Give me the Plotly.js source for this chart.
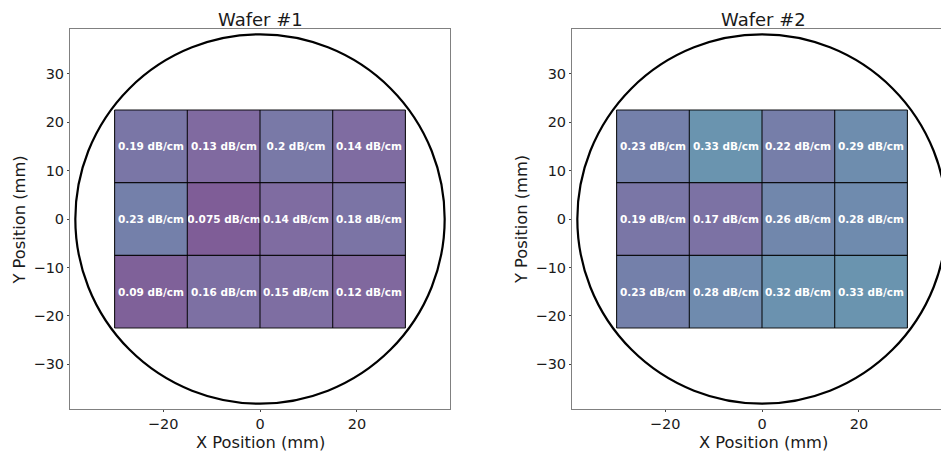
<!DOCTYPE html>
<html>
<head>
<meta charset="utf-8">
<script src="https://cdn.plot.ly/plotly-3.0.1.min.js"></script>
<style>
html,body{margin:0;padding:0;overflow:hidden;background:#fff;width:941px;height:452px;}
#chart{width:960px;height:452px;}
</style>
</head>
<body>
<div id="chart"></div>
<script>
// ---- data ----
const xCenters = [-22.5, -7.5, 7.5, 22.5];     // mm, column centres
const yCenters = [15, 0, -15];                 // mm, row centres
const wafer1 = [
  [0.19, 0.13, 0.2, 0.14],
  [0.23, 0.075, 0.14, 0.18],
  [0.09, 0.16, 0.15, 0.12]
];
const wafer2 = [
  [0.23, 0.33, 0.22, 0.29],
  [0.19, 0.17, 0.26, 0.28],
  [0.23, 0.28, 0.32, 0.33]
];
const waferTitles = ['Wafer #1', 'Wafer #2'];
const xLabel = 'X Position (mm)';
const yLabel = 'Y Position (mm)';
const unit = 'dB/cm';
const waferRadius = 38.1;   // mm (3-inch wafer)
const cellSize = 15;        // mm
const axisRange = [-39.2, 39.2];
const xTickVals = [-20, 0, 20];
const yTickVals = [-30, -20, -10, 0, 10, 20, 30];

// ---- styling ----
const zmin = 0.075, zmax = 0.33;
function stop(v){ return (v - zmin) / (zmax - zmin); }
const colorscale = [
  [stop(0.075), 'rgb(127,93,151)'],
  [stop(0.13),  'rgb(128,106,160)'],
  [stop(0.19),  'rgb(122,118,166)'],
  [stop(0.23),  'rgb(116,128,170)'],
  [stop(0.28),  'rgb(111,139,174)'],
  [stop(0.33),  'rgb(106,148,175)']
];
const FONT = 'DejaVu Sans, sans-serif';
const TXT = '#1a1a1a';

function heat(z, xa, ya){
  return {
    type: 'heatmap', x: xCenters, y: yCenters, z: z,
    xaxis: xa, yaxis: ya,
    zmin: zmin, zmax: zmax, colorscale: colorscale, showscale: false,
    text: z.map(r => r.map(v => v + ' ' + unit)),
    texttemplate: '%{text}',
    textfont: {family: FONT, size: 10.5, color: 'white', weight: 'bold'},
    hoverinfo: 'skip'
  };
}
function gridLines(xa, ya){
  const h = cellSize / 2;
  const xe = [xCenters[0] - h].concat(xCenters.map(c => c + h));
  const ye = [yCenters[0] + h].concat(yCenters.map(c => c - h));
  const xs = [], ys = [];
  xe.forEach(x => { xs.push(x, x, null); ys.push(ye[0], ye[ye.length-1], null); });
  ye.forEach(y => { xs.push(xe[0], xe[xe.length-1], null); ys.push(y, y, null); });
  return {type:'scatter', mode:'lines', x: xs, y: ys, xaxis: xa, yaxis: ya,
          line:{color:'rgba(0,0,0,0.9)', width:1.1}, hoverinfo:'skip', showlegend:false};
}

const data = [
  heat(wafer1, 'x', 'y'), gridLines('x', 'y'),
  heat(wafer2, 'x2', 'y2'), gridLines('x2', 'y2')
];

function axisCommon(){
  return {
    range: axisRange, showgrid: false, zeroline: false,
    showline: true, mirror: true, linecolor: '#808080', linewidth: 1,
    ticks: 'outside', ticklen: 2, tickcolor: '#444', tickwidth: 1,
    tickfont: {family: FONT, size: 14.5, color: TXT},
    fixedrange: true
  };
}
const W = 960, H = 452;
const P1 = [70, 450], P2 = [572, 952];
const yDom = [(H - 409) / H, (H - 29) / H];
const xa1 = Object.assign(axisCommon(), {domain:[P1[0]/W, P1[1]/W], anchor:'y', tickvals:xTickVals});
const ya1 = Object.assign(axisCommon(), {domain:yDom, anchor:'x', tickvals:yTickVals});
const xa2 = Object.assign(axisCommon(), {domain:[P2[0]/W, P2[1]/W], anchor:'y2', tickvals:xTickVals});
const ya2 = Object.assign(axisCommon(), {domain:yDom, anchor:'x2', tickvals:yTickVals});

function circle(xr, yr){
  return {type:'circle', xref:xr, yref:yr, x0:-waferRadius, x1:waferRadius,
          y0:-waferRadius, y1:waferRadius, line:{color:'black', width:2.2}, layer:'above'};
}
function ann(text, px, py, size, angle){
  return {text: text, xref:'paper', yref:'paper', x: px / W, y: (H - py) / H,
          xanchor:'center', yanchor:'middle', showarrow:false, textangle: angle || 0,
          font:{family:FONT, size:size, color:TXT}};
}

const layout = {
  width: W, height: H,
  margin: {l:0, r:0, t:0, b:0},
  paper_bgcolor: 'white', plot_bgcolor: 'white',
  showlegend: false,
  xaxis: xa1, yaxis: ya1, xaxis2: xa2, yaxis2: ya2,
  shapes: [circle('x', 'y'), circle('x2', 'y2')],
  annotations: [
    ann(waferTitles[0], (P1[0]+P1[1])/2, 19.5, 18),
    ann(waferTitles[1], (P2[0]+P2[1])/2 + 1, 19.5, 18),
    ann(xLabel, 260, 442.5, 16.3),
    ann(xLabel, 763, 442.5, 16.3),
    ann(yLabel, 18.5, 220, 16.3, -90),
    ann(yLabel, 521, 220, 16.3, -90)
  ]
};

Plotly.newPlot('chart', data, layout, {staticPlot:true, displayModeBar:false});
</script>
</body>
</html>
